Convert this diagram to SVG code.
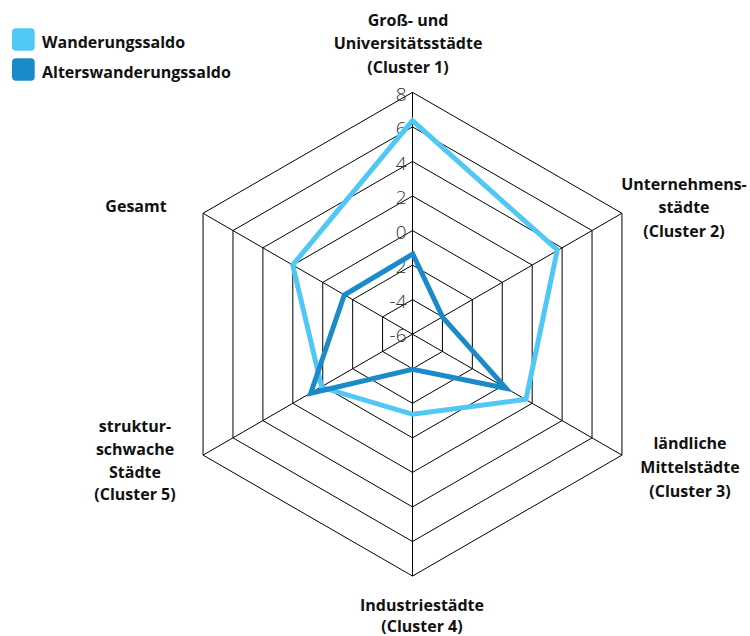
<svg xmlns="http://www.w3.org/2000/svg" width="750" height="636" viewBox="0 0 750 636">
<style>
.grid{fill:none;stroke:#000;stroke-width:1}
.lbl{font-family:"Open Sans","Liberation Sans",sans-serif;font-weight:700;font-size:16px;fill:#111;text-anchor:middle}
.leg{font-family:"Open Sans","Liberation Sans",sans-serif;font-weight:700;font-size:16px;fill:#111}
.tick{font-family:"Open Sans","Liberation Sans",sans-serif;font-weight:300;font-size:19px;fill:#333;text-anchor:end}
.s1{fill:none;stroke:#4FC8F5;stroke-width:5;stroke-linejoin:miter}
.s2{fill:none;stroke:#1A8BC8;stroke-width:5;stroke-linejoin:miter}
</style>
<rect width="750" height="636" fill="#fff"/>
<g id="grid">
<polygon class="grid" points="412.5,299.65 442.42,316.92 442.42,351.48 412.5,368.75 382.58,351.48 382.58,316.92"/>
<polygon class="grid" points="412.5,265.1 472.34,299.65 472.34,368.75 412.5,403.3 352.66,368.75 352.66,299.65"/>
<polygon class="grid" points="412.5,230.55 502.26,282.37 502.26,386.03 412.5,437.85 322.74,386.03 322.74,282.37"/>
<polygon class="grid" points="412.5,196 532.18,265.1 532.18,403.3 412.5,472.4 292.82,403.3 292.82,265.1"/>
<polygon class="grid" points="412.5,161.45 562.1,247.82 562.1,420.58 412.5,506.95 262.9,420.58 262.9,247.82"/>
<polygon class="grid" points="412.5,126.9 592.03,230.55 592.03,437.85 412.5,541.5 232.97,437.85 232.97,230.55"/>
<polygon class="grid" points="412.5,92.35 621.95,213.27 621.95,455.13 412.5,576.05 203.05,455.13 203.05,213.27"/>
<path class="grid" d="M412.5,334.2V92.35M412.5,334.2L621.95,213.27M412.5,334.2L621.95,455.13M412.5,334.2V576.05M412.5,334.2L203.05,455.13M412.5,334.2L203.05,213.27"/>
</g>
<g id="ticks">
<text class="tick" x="406.5" y="100.5">8</text>
<text class="tick" x="406.5" y="135">6</text>
<text class="tick" x="406.5" y="169.5">4</text>
<text class="tick" x="406.5" y="204">2</text>
<text class="tick" x="406.5" y="238.6">0</text>
<text class="tick" x="406.5" y="273.1">-2</text>
<text class="tick" x="406.5" y="307.7">-4</text>
<text class="tick" x="406.5" y="342.2">-6</text>
</g>
<g id="connectors">
<polygon id="series-wanderungssaldo" class="s1" points="412.4,120.7 557.3,250 526,399.3 412.6,414.3 321.7,387.3 292.7,265"/>
<polygon id="series-alterswanderungssaldo" class="s2" points="412.8,254 442.7,317.3 506,388.3 412.6,369.3 310.7,393.3 344.3,295"/>
</g>
<g id="legend">
<g id="legend-wanderungssaldo"><rect x="12" y="28.3" width="22.7" height="22.4" rx="4" fill="#4FC8F5"/><text class="leg" x="42" y="47.5">Wanderungssaldo</text></g>
<g id="legend-alterswanderungssaldo"><rect x="12" y="58.3" width="22.7" height="22.4" rx="4" fill="#1A8BC8"/><text class="leg" x="42" y="77.5">Alterswanderungssaldo</text></g>
</g>
<g id="node-cluster1"><text class="lbl" x="408" y="25.5">Groß- und</text><text class="lbl" x="408" y="49">Universitätsstädte</text><text class="lbl" x="408" y="72.5">(Cluster 1)</text></g>
<g id="node-cluster2"><text class="lbl" x="684" y="190">Unternehmens-</text><text class="lbl" x="684" y="213.3">städte</text><text class="lbl" x="684" y="236.7">(Cluster 2)</text></g>
<g id="node-cluster3"><text class="lbl" x="690" y="448.5">ländliche</text><text class="lbl" x="690" y="472.5">Mittelstädte</text><text class="lbl" x="690" y="496.5">(Cluster 3)</text></g>
<g id="node-cluster4"><text class="lbl" x="422" y="611">Industriestädte</text><text class="lbl" x="422" y="632">(Cluster 4)</text></g>
<g id="node-cluster5"><text class="lbl" x="135" y="432.3">struktur-</text><text class="lbl" x="135" y="455">schwache</text><text class="lbl" x="135" y="477.5">Städte</text><text class="lbl" x="135" y="500">(Cluster 5)</text></g>
<g id="node-gesamt"><text class="lbl" x="136" y="211.7">Gesamt</text></g>
</svg>
